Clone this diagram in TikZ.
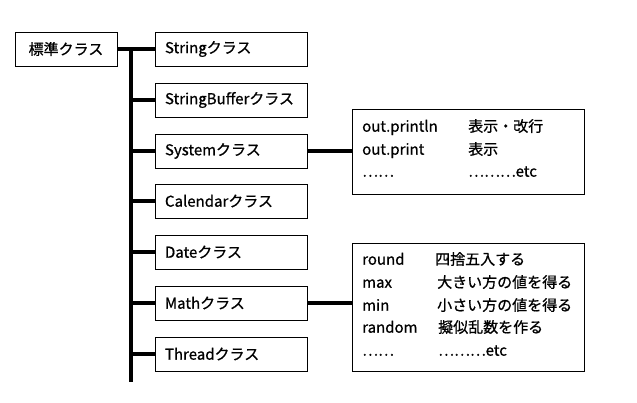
\documentclass[tikz,border=0pt]{standalone}
\usepackage{fontspec}
\setmainfont{Noto Sans CJK JP}[FakeBold=0.8]
\begin{document}
\begin{tikzpicture}[x=1pt,y=-1pt,
  cls/.style={draw,line width=0.9pt,minimum height=34pt,text width=132pt,inner xsep=10pt,align=left,font=\fontsize{15}{17}\selectfont},
  info/.style={draw,line width=0.9pt,minimum width=232pt},
  itxt/.style={anchor=mid west,inner sep=0pt,font=\fontsize{15}{17}\selectfont},
  trunk/.style={line width=3.6pt}]
\useasboundingbox (0,0) rectangle (637,403);
\node[draw,line width=0.9pt,minimum width=102pt,minimum height=34pt,font=\fontsize{15}{17}\selectfont] (std) at (66,49) {標準クラス};
\node[cls] (str) at (231,49) {Stringクラス};
\node[cls] (sb) at (231,100) {StringBufferクラス};
\node[cls] (sys) at (231,151) {Systemクラス};
\node[cls] (cal) at (231,201) {Calendarクラス};
\node[cls] (date) at (231,252) {Dateクラス};
\node[cls] (math) at (231,303) {Mathクラス};
\node[cls] (thr) at (231,354) {Threadクラス};
\coordinate (ttop) at (131,49);
\coordinate (tbot) at (131,382);
\draw[trunk] (ttop) -- (tbot);
\draw[trunk] (std.east) -- (str.west);
\foreach \n in {sb,sys,cal,date,math,thr} \draw[trunk] (\n.west) -- (\n.west -| ttop);
\node[info,minimum height=85pt] (sysinfo) at (468,151.5) {};
\node[info,minimum height=128pt] (mathinfo) at (468,307) {};
\draw[trunk] (sys.east) -- (sys.east -| sysinfo.west);
\draw[trunk] (math.east) -- (math.east -| mathinfo.west);
\node[itxt] (s1a) at (362,129) {out.println};
\node[itxt] (s1b) at (468,129) {表示・改行};
\node[itxt] (s2a) at (362,152) {out.print};
\node[itxt] (s2b) at (468,152) {表示};
\node[itxt] (s3a) at (362,174) {……};
\node[itxt] (s3b) at (468,174) {………etc};
\node[itxt] (m1a) at (362,262) {round};
\node[itxt] (m1b) at (435,262) {四捨五入する};
\node[itxt] (m2a) at (362,285) {max};
\node[itxt] (m2b) at (437,285) {大きい方の値を得る};
\node[itxt] (m3a) at (362,308) {min};
\node[itxt] (m3b) at (437,308) {小さい方の値を得る};
\node[itxt] (m4a) at (362,330) {random};
\node[itxt] (m4b) at (438,330) {擬似乱数を作る};
\node[itxt] (m5a) at (362,353) {……};
\node[itxt] (m5b) at (438,353) {………etc};
\end{tikzpicture}
\end{document}
